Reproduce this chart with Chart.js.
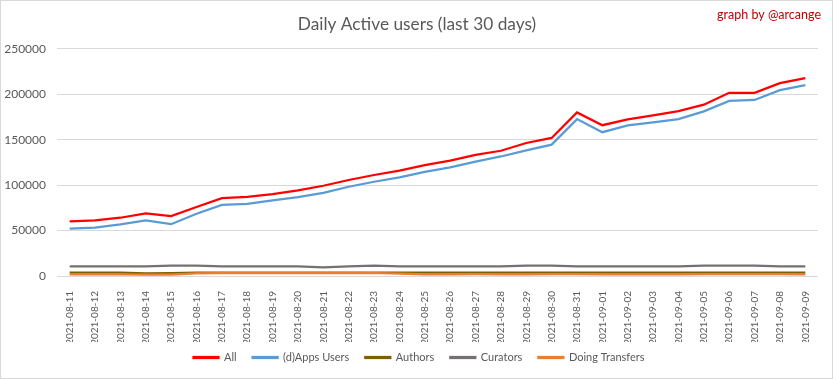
<!DOCTYPE html>
<html>
<head>
<meta charset="utf-8">
<script src="https://cdn.jsdelivr.net/npm/chart.js@4/dist/chart.umd.min.js"></script>
<style>
  html, body { margin: 0; padding: 0; background: #ffffff; }
  #wrap { width: 833px; height: 379px; position: relative; }
</style>
</head>
<body>
<div id="wrap"><canvas id="c" width="833" height="379"></canvas></div>
<script>
const categories = ["2021-08-11","2021-08-12","2021-08-13","2021-08-14","2021-08-15","2021-08-16","2021-08-17","2021-08-18","2021-08-19","2021-08-20","2021-08-21","2021-08-22","2021-08-23","2021-08-24","2021-08-25","2021-08-26","2021-08-27","2021-08-28","2021-08-29","2021-08-30","2021-08-31","2021-09-01","2021-09-02","2021-09-03","2021-09-04","2021-09-05","2021-09-06","2021-09-07","2021-09-08","2021-09-09"];
const allUsers = [60000,61100,64100,68900,65900,75900,85600,87000,90000,94200,99300,105600,111100,115900,121900,127000,133300,137800,146300,151900,180000,165900,172200,176700,181500,188500,201500,201500,212200,217800];
const appsUsers = [52200,53300,56700,61100,57000,68500,78200,79300,83300,86800,91500,98200,103700,108500,114500,119600,125900,131500,138200,144500,172600,158200,165600,168900,172600,181100,192600,193700,204500,210000];
const authors = [3800,3800,3700,3000,3300,3600,3700,3700,3700,3700,3600,3700,3700,3800,3800,3800,3800,3800,3800,3800,3800,3800,3800,3800,3800,3800,3800,3800,3800,3800];
const curators = [10600,10600,10600,10700,11400,11500,10700,10600,10600,10500,9600,10500,11300,10600,10600,10600,10600,10600,11300,11400,10600,10600,10600,10600,10700,11400,11500,11400,10600,10600];
const transfers = [1800,1800,1800,1500,1600,2800,3200,3300,3300,3300,3200,3200,3300,2500,1900,1900,2000,1900,1900,2000,2000,1800,1900,1900,1900,2100,2000,2200,2000,1900];
const yTicks = [0,50000,100000,150000,200000,250000];

const FONT = "Lato, 'Open Sans', sans-serif";
const TXT = "#595959";

const frame = {
  id: 'frame',
  afterLayout(chart) {
    const lg = chart.legend;
    if (lg) { lg.top -= 6; lg.bottom -= 6; lg.left += 10; lg.right += 10; }
    const tt = chart.titleBlock;
    if (tt) { tt.left += 8; tt.right += 8; }
  },
  beforeDraw(chart) {
    const ctx = chart.ctx;
    ctx.save();
    ctx.fillStyle = '#ffffff';
    ctx.fillRect(0, 0, chart.width, chart.height);
    ctx.strokeStyle = '#d9d9d9';
    ctx.lineWidth = 1;
    ctx.strokeRect(0.5, 0.5, chart.width - 1, chart.height - 1);
    ctx.restore();
  },
  afterDraw(chart) {
    const ctx = chart.ctx;
    ctx.save();
    ctx.fillStyle = '#c00000';
    ctx.font = "12.5px " + FONT;
    ctx.textAlign = 'right';
    ctx.textBaseline = 'middle';
    ctx.fillText('graph by @arcange', 821, 15);
    ctx.restore();
  }
};

function ds(label, data, color, order) {
  return {
    label, data, order,
    borderColor: color,
    backgroundColor: color,
    borderWidth: 2.25,
    pointRadius: 0,
    tension: 0,
    fill: false
  };
}

new Chart(document.getElementById('c'), {
  type: 'line',
  data: {
    labels: categories,
    datasets: [
      ds('All', allUsers, '#ff0000', 4),
      ds('(d)Apps Users', appsUsers, '#5b9bd5', 3),
      ds('Authors', authors, '#7f6000', 2),
      ds('Curators', curators, '#767171', 1),
      ds('Doing Transfers', transfers, '#ed7d31', 0)
    ]
  },
  plugins: [frame],
  options: {
    responsive: false,
    devicePixelRatio: 1,
    animation: false,
    layout: { padding: { top: 0, left: 0, right: 15, bottom: 0 } },
    plugins: {
      title: {
        display: true,
        text: 'Daily Active users (last 30 days)',
        color: TXT,
        font: { family: FONT, size: 17.3, weight: 'normal' },
        padding: { top: 14, bottom: 14 }
      },
      legend: {
        position: 'bottom',
        labels: {
          color: TXT,
          font: { family: FONT, size: 11 },
          boxWidth: 25,
          boxHeight: 1,
          padding: 16,
          sort: (a, b) => a.datasetIndex - b.datasetIndex
        }
      },
      tooltip: { enabled: false }
    },
    scales: {
      x: {
        offset: true,
        grid: { display: false },
        border: { display: false },
        ticks: {
          color: TXT,
          font: { family: FONT, size: 10 },
          minRotation: 90,
          maxRotation: 90,
          autoSkip: false,
          padding: 7
        },
        afterFit(scale) { scale.height = 66; }
      },
      y: {
        min: 0,
        max: 250000,
        afterBuildTicks(scale) { scale.ticks = yTicks.map(v => ({ value: v })); },
        grid: { color: '#d9d9d9', lineWidth: 1, drawTicks: false },
        border: { display: false },
        ticks: {
          color: TXT,
          font: { family: FONT, size: 12 },
          padding: 11,
          callback: (v) => String(v)
        },
        afterFit(scale) { scale.width = 57; }
      }
    }
  }
});
</script>
</body>
</html>
